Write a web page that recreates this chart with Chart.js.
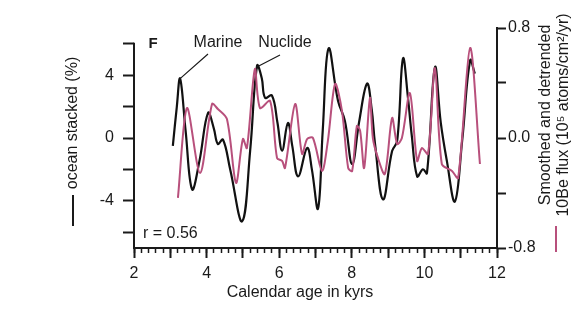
<!DOCTYPE html>
<html>
<head>
<meta charset="utf-8">
<script src="https://cdn.jsdelivr.net/npm/chart.js@4.4.1/dist/chart.umd.min.js"></script>
<style>
  body { margin: 0; background: #fff; }
  #wrap { width: 580px; height: 317px; }
</style>
</head>
<body>
<div id="wrap"><canvas id="chart" width="580" height="317"></canvas></div>
<script>
// Marine (ocean stacked, %) - left axis
const marineAge = [3.07, 3.18, 3.27, 3.42, 3.60, 3.80, 4.04, 4.20, 4.31, 4.45, 4.65, 4.98, 5.20, 5.39, 5.52, 5.61, 5.80, 5.95, 6.08, 6.24, 6.36, 6.52, 6.77, 6.90, 7.07, 7.20, 7.36, 7.62, 7.81, 8.01, 8.20, 8.42, 8.55, 8.64, 8.86, 9.11, 9.25, 9.41, 9.55, 9.65, 9.80, 9.96, 10.07, 10.29, 10.45, 10.62, 10.84, 11.04, 11.26, 11.39];
const marineVal = [-0.5, 2.0, 3.78, 0.5, -3.27, -1.5, 1.6, 0.6, -0.38, -0.1, -2.0, -5.3, -0.8, 4.6, 3.8, 2.56, 2.7, 1.0, -0.8, 0.96, -0.5, -2.44, -0.64, -2.0, -4.49, 0.5, 5.7, 2.37, 1.09, -1.67, 1.0, 3.46, 1.8, -0.38, -3.91, -0.83, -0.19, 5.06, 2.5, 0.2, -2.44, -1.99, -2.24, 4.49, 1.0, -1.47, -4.04, -0.19, 4.94, 4.10];

// Nuclide (10Be flux) - right axis
const nuclideAge = [3.21, 3.46, 3.82, 4.15, 4.31, 4.56, 4.81, 5.00, 5.11, 5.33, 5.47, 5.75, 5.94, 6.08, 6.16, 6.44, 6.63, 6.77, 6.93, 7.18, 7.34, 7.54, 7.73, 7.90, 8.01, 8.14, 8.23, 8.34, 8.50, 8.58, 8.72, 8.91, 9.11, 9.25, 9.38, 9.60, 9.80, 9.93, 10.10, 10.29, 10.48, 10.76, 10.93, 11.26, 11.53];
const nuclideVal = [-0.436, 0.218, -0.255, 0.247, 0.211, 0.138, -0.327, -0.007, -0.073, 0.502, 0.218, 0.269, -0.145, -0.167, -0.218, 0.247, -0.116, -0.007, 0.0, -0.24, -0.022, 0.393, 0.196, -0.218, -0.24, 0.087, 0.051, -0.218, 0.291, 0.0, -0.145, -0.262, 0.145, -0.044, 0.0, 0.327, -0.167, -0.073, -0.116, 0.509, -0.189, -0.24, -0.291, 0.655, -0.189];

// axis ticks
const leftTicks = [-6, -4, -2, 0, 2, 4, 6];
const leftLabels = [-4, 0, 4];
const rightTicks = [-0.8, -0.4, 0, 0.4, 0.8];
const rightLabels = ["-0.8", "0.0", "0.8"];
const xMajorTicks = [2, 3, 4, 5, 6, 7, 8, 9, 10, 11, 12];
const xLabels = [2, 4, 6, 8, 10, 12];

const FONT = "'Liberation Sans', Arial, sans-serif";
const INK = "#1a1a1a";
const PINK = "#b8507c";

const extras = {
  id: "extras",
  afterDraw(chart) {
    const ctx = chart.ctx;
    const { x, y } = chart.scales;
    const area = chart.chartArea;
    ctx.save();

    // left axis line stops at the top tick
    ctx.strokeStyle = INK;
    ctx.lineWidth = 2;
    ctx.beginPath();
    ctx.moveTo(area.left, y.getPixelForValue(6) - 1);
    ctx.lineTo(area.left, area.bottom + 1);
    ctx.stroke();

    ctx.fillStyle = INK;
    ctx.textAlign = "center";
    ctx.textBaseline = "middle";

    // x title
    ctx.font = "16px " + FONT;
    ctx.fillText("Calendar age in kyrs", 300, 293);

    // left title + legend dash
    ctx.save();
    ctx.translate(73, 123);
    ctx.rotate(-Math.PI / 2);
    ctx.fillText("ocean stacked (%)", 0, 0);
    ctx.restore();
    ctx.beginPath();
    ctx.moveTo(73, 195);
    ctx.lineTo(73, 226);
    ctx.stroke();

    // right title + legend dash
    ctx.save();
    ctx.translate(546, 115);
    ctx.rotate(-Math.PI / 2);
    ctx.fillText("Smoothed and detrended", 0, 0);
    ctx.fillText("10Be flux (10\u2075 atoms/cm\u00b2/yr)", 0, 18);
    ctx.restore();
    ctx.strokeStyle = PINK;
    ctx.beginPath();
    ctx.moveTo(556, 226);
    ctx.lineTo(556, 252);
    ctx.stroke();

    // panel letter, labels, r value
    ctx.font = "bold 15px " + FONT;
    ctx.fillText("F", 153, 44);
    ctx.font = "16px " + FONT;
    ctx.fillText("Marine", 218, 43);
    ctx.fillText("Nuclide", 285, 43);
    ctx.textAlign = "left";
    ctx.fillText("r = 0.56", 143, 234);

    // pointer lines
    ctx.strokeStyle = INK;
    ctx.lineWidth = 1.2;
    ctx.beginPath();
    ctx.moveTo(208, 54);
    ctx.lineTo(x.getPixelForValue(3.27), y.getPixelForValue(3.78));
    ctx.moveTo(280, 55);
    ctx.lineTo(x.getPixelForValue(5.37), y.getPixelForValue(4.5));
    ctx.stroke();

    ctx.restore();
  }
};

new Chart(document.getElementById("chart"), {
  type: "line",
  data: {
    datasets: [
      {
        label: "Nuclide",
        data: nuclideAge.map((a, i) => ({ x: a, y: nuclideVal[i] })),
        yAxisID: "y2",
        xAxisID: "x",
        borderColor: PINK,
        borderWidth: 2,
        pointRadius: 0,
        tension: 0.3,
        order: 0
      },
      {
        label: "Marine",
        data: marineAge.map((a, i) => ({ x: a, y: marineVal[i] })),
        yAxisID: "y",
        xAxisID: "x",
        borderColor: "#111",
        borderWidth: 2.2,
        pointRadius: 0,
        tension: 0.4,
        order: 1
      }
    ]
  },
  options: {
    responsive: false,
    animation: false,
    devicePixelRatio: 1,
    layout: { padding: { top: 28, left: 0, right: 0, bottom: 0 } },
    plugins: { legend: { display: false }, tooltip: { enabled: false } },
    scales: {
      xMinor: {
        type: "linear",
        position: "bottom",
        weight: 0,
        min: 2,
        max: 12,
        afterFit: (s) => { s.height = 0; },
        ticks: { display: false, stepSize: 0.2, autoSkip: false },
        grid: { drawOnChartArea: false, tickLength: 5, tickWidth: 1.5, tickColor: INK },
        border: { display: false }
      },
      x: {
        type: "linear",
        position: "bottom",
        weight: 1,
        min: 2,
        max: 12,
        afterFit: (s) => { s.height = 69; },
        afterBuildTicks: (s) => { s.ticks = xMajorTicks.map(v => ({ value: v })); },
        ticks: {
          autoSkip: false,
          maxRotation: 0,
          padding: 6,
          color: INK,
          font: { family: FONT, size: 16 },
          callback: (v) => xLabels.includes(v) ? String(v) : ""
        },
        grid: { drawOnChartArea: false, tickLength: 10, tickWidth: 2, tickColor: INK },
        border: { display: true, color: INK, width: 2 }
      },
      y: {
        type: "linear",
        position: "left",
        min: -7,
        max: 7,
        afterFit: (s) => { s.width = 134; },
        afterBuildTicks: (s) => { s.ticks = leftTicks.map(v => ({ value: v })); },
        ticks: {
          padding: 9,
          color: INK,
          font: { family: FONT, size: 16 },
          callback: (v) => leftLabels.includes(v) ? String(v) : ""
        },
        grid: { drawOnChartArea: false, tickLength: 11, tickWidth: 2, tickColor: INK },
        border: { display: false }
      },
      y2: {
        type: "linear",
        position: "right",
        min: -0.8,
        max: 0.8,
        afterFit: (s) => { s.width = 83; },
        afterBuildTicks: (s) => { s.ticks = rightTicks.map(v => ({ value: v })); },
        ticks: {
          padding: 2,
          color: INK,
          font: { family: FONT, size: 16 },
          callback: (v) => {
            const t = v.toFixed(1);
            return rightLabels.includes(t) ? (t === "-0.0" ? "0.0" : t) : "";
          }
        },
        grid: { drawOnChartArea: false, tickLength: 9, tickWidth: 2, tickColor: INK },
        border: { display: true, color: INK, width: 2 }
      }
    }
  },
  plugins: [extras]
});
</script>
</body>
</html>
